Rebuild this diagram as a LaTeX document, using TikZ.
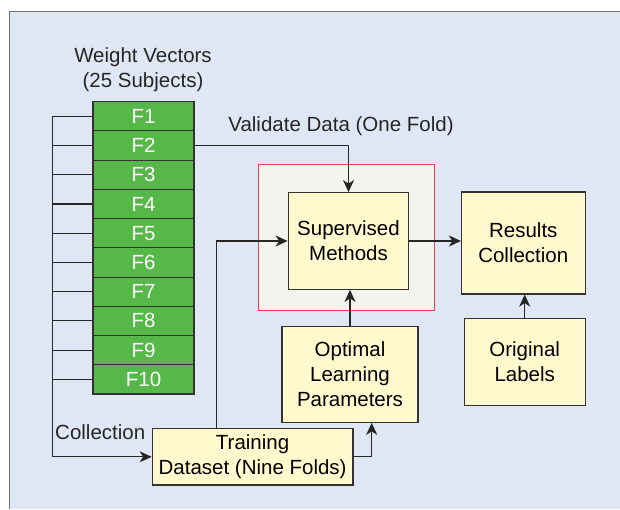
\documentclass[tikz,border=0pt]{standalone}
\usepackage{fontspec}
\setmainfont{Liberation Sans}
\usetikzlibrary{arrows.meta}
\definecolor{bgblue}{HTML}{DFE6F4}
\definecolor{foldgreen}{HTML}{55B848}
\definecolor{boxyellow}{HTML}{FFF9CD}
\definecolor{corered}{HTML}{E8424A}
\definecolor{corefill}{HTML}{F3F4EE}
\tikzstyle{fold} = [rectangle, minimum width=101pt, minimum height=29.2pt, inner sep=0pt, text centered, draw=black!80, line width=1.1pt, fill=foldgreen, text=white]
\tikzstyle{process} = [rectangle, inner sep=0pt, align=center, draw=black!80, line width=1.1pt, fill=boxyellow]
\tikzstyle{label} = [inner sep=0pt, align=center, text=black!85]
\tikzstyle{arrow} = [line width=1.1pt, draw=black!85, -{Stealth[length=12pt, width=11pt, inset=3.5pt]}]
\tikzstyle{line} = [line width=1.1pt, draw=black!85]

\begin{document}
\begin{tikzpicture}[x=1pt, y=-1pt, font=\fontsize{20.5}{25}\selectfont]
\useasboundingbox (0,0) rectangle (620,509);
% background panel
\fill[bgblue] (9.5,11.7) rectangle (620,509);
\draw[black!55, line width=1.2pt] (9.5,509) |- (620,11.7);

\node (title) [label] at (143,70) {Weight Vectors\\(25 Subjects)};

% the ten folds
\foreach \i in {1,...,10}
  \node (f\i) [fold] at (143.5,{116.3+29.23*(\i-1)}) {F\i};

\node (validate) [label] at (341,126.5) {Validate Data (One Fold)};

\node (core) [rectangle, draw=corered, line width=1.1pt, fill=corefill, minimum width=176pt, minimum height=146pt] at (346.6,237.7) {};
\node (sup) [process, minimum width=120.7pt, minimum height=96.7pt] at (348.5,241) {Supervised\\Methods};
\node (results) [process, minimum width=123.7pt, minimum height=102pt] at (523.3,243) {Results\\Collection};
\node (labels) [process, minimum width=121pt, minimum height=87.4pt] at (524.7,362) {Original\\Labels};
\node (optimal) [process, minimum width=136pt, minimum height=95.6pt] at (350,374.5) {Optimal\\Learning\\Parameters};
\node (training) [process, minimum width=200.8pt, minimum height=56.3pt] at (252.6,456.8) {Training\\Dataset (Nine Folds)};
\node (collection) [label, anchor=west] at (55,432) {Collection};

\coordinate (bus) at (52.6,456.8);

% collection bus
\foreach \i in {2,...,10}
  \draw [line] (f\i.west) -- (f\i.west -| bus);
\draw [arrow] (f1.west) -| (bus) -- (training.west);

\draw [arrow] (f2.east) -| (sup.north);
\draw [arrow] ([xshift=-36pt]training.north) |- (sup.west);
\draw [arrow] (training.east) -| ([xshift=21.7pt]optimal.south);
\draw [arrow] (optimal.north) -- (optimal.north |- sup.south);
\draw [arrow] (sup.east) -- (sup.east -| results.west);
\draw [arrow] (labels.north) -- (labels.north |- results.south);
\end{tikzpicture}
\end{document}
